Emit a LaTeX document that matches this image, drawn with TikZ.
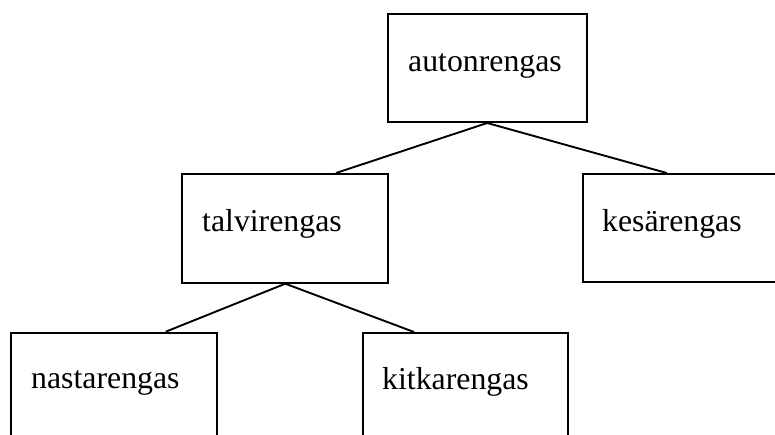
\documentclass[tikz,border=0pt]{standalone}
\usepackage{fontspec}
\setmainfont{Liberation Serif}
\begin{document}
\begin{tikzpicture}[x=1pt,y=-1pt,
  box/.style={draw=black,line width=2pt,rectangle,inner sep=0pt},
  word/.style={inner sep=0pt,anchor=base west,font=\fontsize{31.8}{38}\selectfont},
  link/.style={draw=black,line width=1.9pt}]
\useasboundingbox (0,0) rectangle (775,434);
\clip (0,0) rectangle (775,434);
% boxes of the tree
\node[box,minimum width=199.5pt,minimum height=108.5pt] (auto) at (487.25,67.75) {};
\node[box,minimum width=206pt,minimum height=108.7pt] (talv) at (285.3,228.35) {};
\node[box,minimum width=210pt,minimum height=108pt] (kes) at (687.7,228) {};
\node[box,minimum width=205.7pt,minimum height=120pt] (nast) at (113.85,392.7) {};
\node[box,minimum width=205pt,minimum height=120pt] (kitk) at (465.5,393) {};
% labels
\node[word] (tauto) at (408,71) {autonrengas};
\node[word] (ttalv) at (202,231) {talvirengas};
\node[word] (tkes) at (602,231) {kesärengas};
\node[word] (tnast) at (31,388.5) {nastarengas};
\node[word] (tkitk) at (382,389) {kitkarengas};
% branches
\draw[link] (auto.south) -- ([xshift=154.7pt]talv.north west);
\draw[link] (auto.south) -- ([xshift=85pt]kes.north west);
\draw[link] (talv.south) -- ([xshift=155.7pt]nast.north west);
\draw[link] (talv.south) -- ([xshift=52pt]kitk.north west);
\end{tikzpicture}
\end{document}
